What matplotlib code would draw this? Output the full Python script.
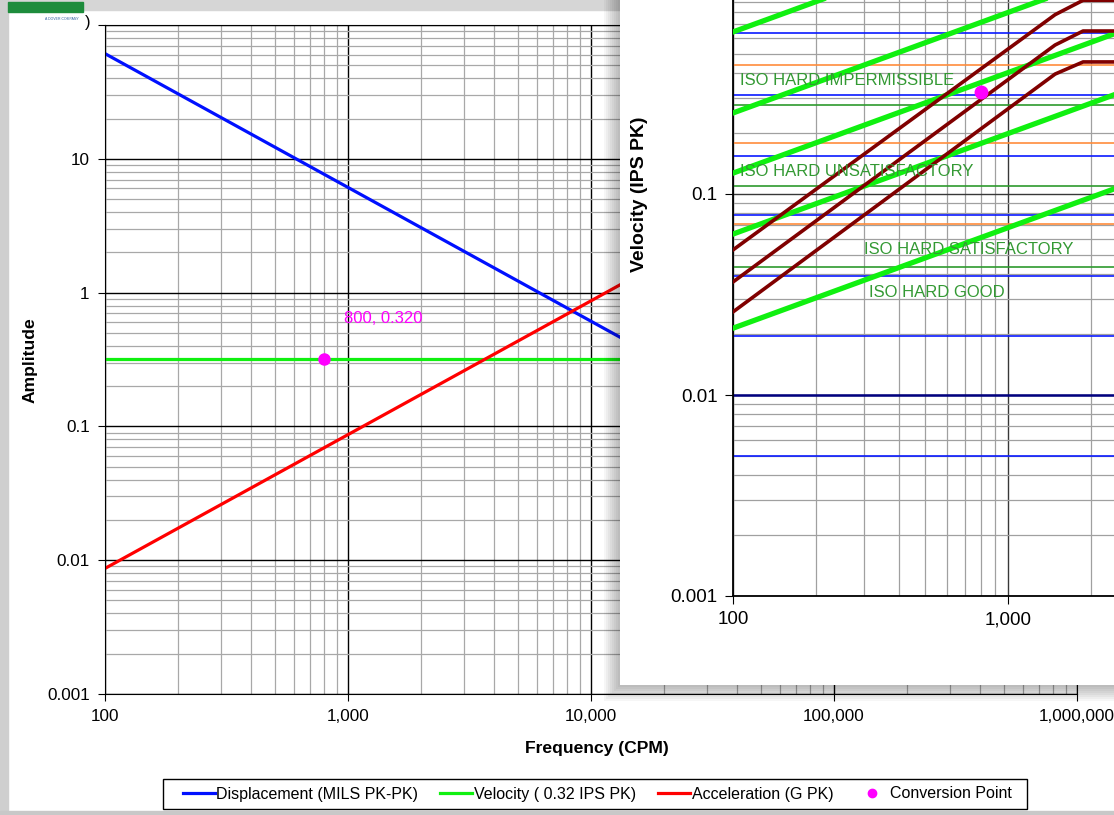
import numpy as np
import matplotlib
matplotlib.use("Agg")
import matplotlib.pyplot as plt
from matplotlib.patches import Rectangle
from matplotlib.lines import Line2D
from matplotlib.ticker import LogLocator, NullFormatter

plt.rcParams['font.family'] = ['Liberation Sans', 'DejaVu Sans']

# ---- back chart: amplitude conversion ----
freq_back = [100, 1000000]
disp_mils = [61.1, 0.00611]
vel_ips = [0.32, 0.32]
accel_g = [0.00868, 86.8]
conv_freq = 800
conv_vel = 0.32
conv_label = "800, 0.320"
back_xticks = [100, 1000, 10000, 100000, 1000000]
back_xlabels = ['100', '1,000', '10,000', '100,000', '1,000,000']
back_yticks = [0.001, 0.01, 0.1, 1, 10, 100]
back_ylabels = ['0.001', '0.01', '0.1', '1', '10', '']
legend_labels = ['Displacement (MILS PK-PK)', 'Velocity ( 0.32 IPS PK)',
                 'Acceleration (G PK)', 'Conversion Point']

# ---- front chart: ISO velocity severity ----
iso_freq = [100, 10000]
iso_start = [0.64, 0.253, 0.127, 0.0632, 0.0215]
iso_end = [6.4, 2.53, 1.27, 0.632, 0.215]
limit_freq = [100, 1483, 1875, 10000]
limit_a = [0.0527, 0.78, 0.92, 0.92]
limit_b = [0.0365, 0.551, 0.647, 0.647]
limit_c = [0.0259, 0.395, 0.454, 0.454]
blue_levels = [0.005, 0.0197, 0.039, 0.0786, 0.155, 0.311, 0.632]
navy_levels = [0.01]
orange_levels = [0.0709, 0.179, 0.438]
green_levels = [0.0433, 0.1096, 0.277]
iso_labels = ['ISO HARD IMPERMISSIBLE', 'ISO HARD UNSATISFACTORY',
              'ISO HARD SATISFACTORY', 'ISO HARD GOOD']
iso_label_f = [106, 106, 299, 312]
iso_label_v = [0.369, 0.129, 0.0527, 0.0322]
front_xticks = [100, 1000]
front_xlabels = ['100', '1,000']
front_yticks = [0.001, 0.01, 0.1]
front_ylabels = ['0.001', '0.01', '0.1']

W, H = 1114, 815


def fx(px):
    return px / W


def fy(py):
    return 1 - py / H


fig = plt.figure(figsize=(W / 100, H / 100), dpi=100)
fig.patch.set_facecolor('white')


def log_axes(ax, xlim, ylim, major_col, minor_col):
    ax.set_xscale('log')
    ax.set_yscale('log')
    ax.set_xlim(*xlim)
    ax.set_ylim(*ylim)
    ax.grid(which='minor', color=minor_col, lw=0.9)
    ax.grid(which='major', color=major_col, lw=1.0)
    ax.set_axisbelow(True)


def minor_grid(ax):
    for axis in (ax.xaxis, ax.yaxis):
        axis.set_minor_locator(LogLocator(base=10, subs=np.arange(2, 10), numticks=100))
        axis.set_minor_formatter(NullFormatter())
    ax.tick_params(which='minor', length=0)


# back axes
ax = fig.add_axes([fx(105), fy(694), fx(1077) - fx(105), fy(25) - fy(694)], zorder=0)
log_axes(ax, (100, 1000000), (0.001, 100), 'black', '#a8a8a8')
ax.set_xticks(back_xticks, back_xlabels)
ax.set_yticks(back_yticks, back_ylabels)
minor_grid(ax)
ax.tick_params(which='major', length=5, labelsize=12.3, pad=6)

ax.plot(freq_back, disp_mils, color='#0010ff', lw=2.3)
ax.plot(freq_back, vel_ips, color='#10f010', lw=2.3)
ax.plot(freq_back, accel_g, color='#ff0000', lw=2.3)
ax.plot(conv_freq, conv_vel, 'o', color='#ff00ff', ms=8, zorder=5)
ax.annotate(conv_label, (conv_freq, conv_vel), xytext=(14, 29), textcoords='offset points',
            color='#ff00ff', fontsize=12, ha='left', va='center')

fig.text(fx(597), fy(748), 'Frequency (CPM)', fontsize=12.6, weight='bold', ha='center', va='center')
fig.text(fx(30), fy(360), 'Amplitude', fontsize=12.6, weight='bold', rotation=90,
         ha='center', va='center')

handles = [Line2D([], [], color='#0010ff', lw=2.3),
           Line2D([], [], color='#10f010', lw=2.3),
           Line2D([], [], color='#ff0000', lw=2.3),
           Line2D([], [], color='#ff00ff', marker='o', ls='none', ms=6)]
leg = fig.legend(handles, legend_labels, loc='center', bbox_to_anchor=(fx(597), fy(794)),
                 ncol=4, frameon=False, fontsize=11.5,
                 handlelength=2.0, handletextpad=0.1, columnspacing=1.4, borderpad=0.45)
fig.patches.append(Rectangle((fx(163), fy(809)), fx(1027) - fx(163), 30 / H,
                             transform=fig.transFigure, fill=False, edgecolor='black',
                             lw=1.0, zorder=1.5))

# window chrome of the back sheet
fig.patches.append(Rectangle((0, fy(10)), fx(620), 10 / H, transform=fig.transFigure,
                             color='#d6d6d6', zorder=1.5))
fig.patches.append(Rectangle((0, 0), fx(8), 1, transform=fig.transFigure,
                             color='#cfcfcf', zorder=1.5))
fig.patches.append(Rectangle((0, 0), 1, 4 / H, transform=fig.transFigure,
                             color='#c8c8c8', zorder=1.5))
fig.patches.append(Rectangle((fx(8), fy(12)), fx(75), 10 / H, transform=fig.transFigure,
                             color='#1e8c3c', zorder=1.6))
fig.text(fx(62), fy(19), 'A DOVER COMPANY', fontsize=2.5, color='#3060a0',
         ha='center', va='center')
fig.text(fx(88), fy(22), ')', fontsize=12, ha='center', va='center')

# shadow + white front window
for k in range(1, 9):
    off = 2 * k
    fig.patches.append(Rectangle((fx(620 - off), fy(685 + off)), 1, 1, transform=fig.transFigure,
                                 color='black', alpha=0.035, lw=0, zorder=2))
fig.patches.append(Rectangle((fx(620), fy(685)), 1, 1, transform=fig.transFigure,
                             color='white', lw=0, zorder=2.1))

# front axes
ax2 = fig.add_axes([fx(733), fy(596), 550 / W, 603 / H], zorder=3)
ax2.set_facecolor('white')
log_axes(ax2, (100, 10000), (0.001, 1), '#383838', '#a0a0a0')
ax2.set_xticks(front_xticks, front_xlabels)
ax2.set_yticks(front_yticks, front_ylabels)
minor_grid(ax2)
ax2.grid(which='major', axis='both', color='#383838', lw=1.0)
ax2.tick_params(which='major', length=6, labelsize=13.5, pad=5)
ax2.spines['top'].set_visible(False)
ax2.spines['right'].set_visible(False)
for s in ('left', 'bottom'):
    ax2.spines[s].set_linewidth(1.3)

for v in blue_levels:
    ax2.axhline(v, color='#0a1aff', lw=1.2, zorder=2)
for v in navy_levels:
    ax2.axhline(v, color='#000080', lw=1.8, zorder=2)
for v in orange_levels:
    ax2.axhline(v, color='#ff8c3c', lw=1.2, zorder=2)
for v in green_levels:
    ax2.axhline(v, color='#2e9a2e', lw=1.2, zorder=2)
for v0, v1 in zip(iso_start, iso_end):
    ax2.plot(iso_freq, [v0, v1], color='#10f010', lw=3.8, zorder=3)
for vals in (limit_a, limit_b, limit_c):
    ax2.plot(limit_freq, vals, color='#800000', lw=2.6, zorder=4)
ax2.plot(conv_freq, conv_vel, 'o', color='#ff00ff', ms=9, zorder=6)
for lab, f, v in zip(iso_labels, iso_label_f, iso_label_v):
    ax2.text(f, v, lab, color='#339933', fontsize=12, ha='left', va='center', zorder=7)

fig.text(fx(639), fy(194), 'Velocity (IPS PK)', fontsize=14, weight='bold', rotation=90,
         ha='center', va='center', zorder=4)

fig.savefig('out.png', dpi=100)
